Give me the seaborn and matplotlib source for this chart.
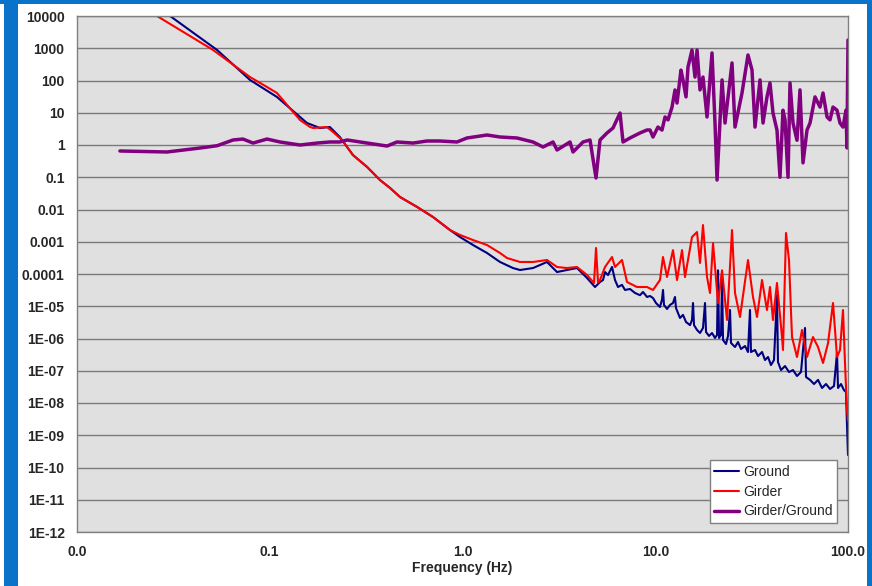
import numpy as np
import pandas as pd
import matplotlib
matplotlib.use("Agg")
import matplotlib.pyplot as plt
from matplotlib.patches import Rectangle
from matplotlib.ticker import NullLocator
import seaborn as sns

sns.set_theme(style="white")
plt.rcParams['font.family'] = ['Liberation Sans', 'DejaVu Sans']

# ---------------- data ----------------
ground_freq = [0.0239, 0.0304, 0.0533, 0.0790, 0.109, 0.156, 0.182, 0.205, 0.231, 0.270,
               0.320, 0.373, 0.421, 0.474, 0.581, 0.703, 0.861, 0.971, 1.134, 1.340,
               1.565, 1.828, 1.988, 2.322, 2.744, 3.093, 3.484, 3.927, 4.426, 4.869,
               5.169, 5.357, 5.487, 5.687, 5.966, 6.184, 6.409, 6.723, 6.968, 7.396,
               7.852, 8.334, 8.638, 9.063, 9.393, 9.735, 10.09, 10.58, 10.84, 10.97,
               11.10, 11.51, 11.93, 12.36, 12.66, 12.81, 13.44, 13.93, 14.44, 15.15,
               15.51, 15.70, 15.89, 16.47, 17.07, 17.69, 18.12, 18.34, 19.01, 19.70,
               20.42, 20.92, 21.17, 21.42, 21.94, 22.21, 22.47, 23.29, 23.85, 24.43,
               24.72, 25.93, 26.88, 27.86, 29.22, 30.28, 31.01, 31.38, 32.93, 34.13,
               35.81, 37.11, 38.46, 39.85, 41.31, 42.81, 43.32, 44.92, 47.12, 49.42,
               51.84, 54.38, 57.04, 59.83, 60.55, 63.53, 66.64, 69.90, 73.32, 76.90,
               80.67, 84.60, 87.70, 88.75, 92.0, 95.33, 97.63, 98.80, 100.0]
ground_psd = [2.8e4, 1.0e4, 883, 104, 30.8, 4.81, 3.37, 3.61, 1.77, 0.49,
              0.208, 0.0822, 0.0464, 0.0244, 0.0120, 5.85e-3, 2.31e-3, 1.40e-3, 7.92e-4, 4.48e-4,
              2.36e-4, 1.53e-4, 1.33e-4, 1.53e-4, 2.36e-4, 1.15e-4, 1.33e-4, 1.53e-4, 7.52e-5, 3.95e-5,
              5.65e-5, 6.5e-5, 1.15e-4, 9.3e-5, 1.65e-4, 6.5e-5, 3.95e-5, 4.6e-5, 3.2e-5, 3.43e-5,
              2.58e-5, 2.2e-5, 2.77e-5, 1.94e-5, 2.08e-5, 1.80e-5, 1.26e-5, 9.48e-6, 1.6e-5, 3.2e-5,
              1.1e-5, 8.22e-6, 1.1e-5, 1.26e-5, 1.94e-5, 8.83e-6, 4.33e-6, 5.4e-6, 3.25e-6, 2.6e-6,
              3.75e-6, 1.26e-5, 2.6e-6, 1.84e-6, 1.48e-6, 2.12e-6, 1.26e-5, 1.59e-6, 1.20e-6, 1.48e-6,
              1.04e-6, 1.3e-6, 1.3e-4, 1.04e-6, 1.3e-6, 6.5e-5, 9.0e-7, 6.74e-7, 1.20e-6, 7.65e-6,
              7.24e-7, 5.45e-7, 7.78e-7, 4.72e-7, 5.85e-7, 3.81e-7, 7.65e-6, 3.81e-7, 4.4e-7, 2.86e-7,
              3.81e-7, 2.15e-7, 2.67e-7, 1.5e-7, 2.15e-7, 2.2e-5, 1.87e-7, 1.05e-7, 1.40e-7, 9.14e-8,
              1.05e-7, 6.87e-8, 9.14e-8, 2.12e-6, 6.4e-8, 5.2e-8, 3.88e-8, 5.2e-8, 2.92e-8, 3.88e-8,
              2.72e-8, 3.37e-8, 3.55e-7, 2.92e-8, 3.88e-8, 2.5e-8, 2.19e-8, 2.08e-9, 2.44e-10]

girder_freq = [0.0212, 0.0260, 0.0508, 0.0790, 0.0968, 0.109, 0.1435, 0.162, 0.168, 0.198,
               0.213, 0.237, 0.270, 0.320, 0.373, 0.421, 0.474, 0.581, 0.703, 0.861,
               0.971, 1.134, 1.340, 1.565, 1.702, 1.988, 2.322, 2.744, 3.093, 3.484,
               3.927, 4.426, 4.811, 4.928, 5.047, 5.169, 5.487, 5.966, 6.184, 6.723,
               7.136, 8.040, 9.063, 9.735,
               10.58, 10.97, 11.51, 12.36, 12.97, 13.77, 14.27, 15.51, 16.47, 17.07,
               17.69, 18.56, 19.23, 19.94, 21.17, 22.21, 23.57, 25.02, 25.93, 27.53,
               30.28, 32.15, 33.73, 35.81, 37.99, 39.38, 40.81, 42.81, 45.46, 46.00,
               47.68, 49.42, 51.23, 54.38, 57.72, 61.28, 65.83, 69.90, 74.19, 78.8,
               83.61, 87.70, 90.88, 94.21, 96.47, 98.80, 100.0]
girder_psd = [2.1e4, 1.0e4, 883, 128, 62.8, 40.9, 5.96, 3.61, 3.37, 3.61,
              2.53, 1.43, 0.49, 0.208, 0.0822, 0.0464, 0.0244, 0.0120, 5.85e-3, 2.31e-3,
              1.62e-3, 1.13e-3, 7.92e-4, 4.48e-4, 3.13e-4, 2.36e-4, 2.36e-4, 2.72e-4, 1.65e-4, 1.53e-4,
              1.65e-4, 9.31e-5, 5.26e-5, 6.40e-4, 5.5e-5, 6.52e-5, 1.65e-4, 3.36e-4, 1.65e-4, 2.72e-4,
              5.65e-5, 3.95e-5, 3.95e-5, 3.19e-5,
              6.5e-5, 3.36e-4, 8.07e-5, 5.5e-4, 6.5e-5, 5.5e-4, 8.07e-5, 1.4e-3, 2.0e-3, 2.19e-4,
              3.3e-3, 8.07e-5, 2.58e-5, 9.1e-4, 1.26e-5, 1.3e-4, 3.75e-6, 2.3e-3, 2.58e-5, 4.65e-6,
              2.7e-4, 1.94e-5, 4.65e-6, 6.5e-5, 7.65e-6, 3.95e-5, 3.75e-6, 5.26e-5, 1.11e-6, 4.4e-7,
              1.87e-3, 2.7e-4, 1.11e-6, 2.67e-7, 1.84e-6, 2.67e-7, 1.11e-6, 5.45e-7, 1.74e-7, 7.24e-7,
              1.26e-5, 2.67e-7, 4.4e-7, 7.65e-6, 1.74e-7, 6.07e-9, 2.97e-9]

ratio_freq = [0.0167, 0.0293, 0.0435, 0.0533, 0.0645, 0.0726, 0.0819, 0.0968, 0.113, 0.1435,
              0.176, 0.205, 0.231, 0.252, 0.320, 0.406, 0.457, 0.554, 0.654, 0.764,
              0.936, 1.055, 1.340, 1.565, 1.918, 2.322, 2.617, 2.948, 3.093, 3.612,
              3.744, 4.220, 4.587, 4.928, 5.169, 5.620, 6.038, 6.564, 6.804, 7.396,
              8.334, 9.063, 9.393, 9.735,
              10.33, 10.84, 11.24, 11.65, 12.22, 12.66, 12.97, 13.60, 13.93, 14.44,
              14.79, 15.51, 16.08, 16.47, 17.07, 17.69, 18.56, 19.70, 20.42, 20.92,
              22.21, 23.01, 25.02, 25.93, 28.19, 30.28, 31.77, 32.93, 34.96, 36.24,
              37.99, 39.38, 40.82, 42.81, 44.38, 46.00, 47.12, 48.84, 50.02, 51.84,
              54.38, 56.36, 58.42, 61.28, 63.53, 67.44, 71.57, 74.19, 77.83, 80.67,
              83.61, 87.70, 90.88, 94.21, 97.63, 98.80, 100.0]
ratio_psd = [0.652, 0.607, 0.807, 0.95, 1.43, 1.53, 1.15, 1.53, 1.24, 1.0,
             1.15, 1.24, 1.24, 1.43, 1.15, 0.93, 1.24, 1.15, 1.33, 1.33,
             1.24, 1.65, 2.04, 1.77, 1.65, 1.24, 0.867, 1.24, 0.70, 1.24,
             0.607, 1.24, 1.43, 0.0948, 1.43, 2.36, 3.37, 9.8, 1.24, 1.65,
             2.36, 2.92, 2.92, 1.77,
             3.6, 2.9, 7.4, 6.0, 15, 51, 20, 210, 104, 31,
             262, 880, 128, 880, 51, 128, 7.4, 713, 4.8, 0.082,
             104, 4.8, 349, 3.6, 41, 618, 212, 3.6, 104, 4.8,
             31, 84, 9.8, 2.9, 0.10, 12, 6.0, 0.10, 84, 4.8,
             1.4, 51, 0.28, 2.9, 4.8, 31, 15, 41, 7.4, 6.0,
             15, 12, 4.8, 3.6, 12, 0.81, 1800]

series_names = ["Ground", "Girder", "Girder/Ground"]
x_tick_values = [0.01, 0.1, 1.0, 10.0, 100.0]
x_tick_labels = ["0.0", "0.1", "1.0", "10.0", "100.0"]
y_tick_values = [1e4, 1e3, 1e2, 1e1, 1e0, 1e-1, 1e-2, 1e-3, 1e-4, 1e-5,
                 1e-6, 1e-7, 1e-8, 1e-9, 1e-10, 1e-11, 1e-12]
y_tick_labels = ["10000", "1000", "100", "10", "1", "0.1", "0.01", "0.001", "0.0001",
                 "1E-05", "1E-06", "1E-07", "1E-08", "1E-09", "1E-10", "1E-11", "1E-12"]
x_label = "Frequency (Hz)"

# ---------------- figure ----------------
W, H = 872, 586
fig = plt.figure(figsize=(W / 100, H / 100), dpi=100)
fig.patch.set_facecolor("white")
slide_blue = "#0b72c9"
fig.patches.append(Rectangle((4 / W, 0), 14 / W, 1, transform=fig.transFigure,
                             facecolor=slide_blue, edgecolor="none", zorder=0))
fig.patches.append(Rectangle((867 / W, 0), 5 / W, 1, transform=fig.transFigure,
                             facecolor=slide_blue, edgecolor="none", zorder=0))
fig.patches.append(Rectangle((0, 1 - 4 / H), 1, 4 / H, transform=fig.transFigure,
                             facecolor=slide_blue, edgecolor="none", zorder=0))

ax = fig.add_axes([77 / W, 1 - 532 / H, 771 / W, 516 / H])
ax.set_facecolor("#e0e0e0")
ax.set_xscale("log")
ax.set_yscale("log")

styles = [("#000080", 1.5), ("#ff0000", 1.5), ("#800080", 2.5)]
datasets = [(ground_freq, ground_psd), (girder_freq, girder_psd), (ratio_freq, ratio_psd)]
for name, (f, p), (c, lw) in zip(series_names, datasets, styles):
    df = pd.DataFrame({"freq": f, "psd": p})
    sns.lineplot(data=df, x="freq", y="psd", ax=ax, color=c, linewidth=lw,
                 label=name, estimator=None, sort=False)

ax.set_xlim(0.01, 100)
ax.set_ylim(1e-12, 1e4)
ax.set_xticks(x_tick_values, x_tick_labels)
ax.set_yticks(y_tick_values, y_tick_labels)
ax.xaxis.set_minor_locator(NullLocator())
ax.yaxis.set_minor_locator(NullLocator())
ax.yaxis.grid(True, color="#7a7a7a", linewidth=1.0)
ax.xaxis.grid(False)
ax.set_axisbelow(True)
for s in ax.spines.values():
    s.set_color("#808080")
    s.set_linewidth(1.0)
ax.tick_params(axis="both", which="major", direction="out", length=4, width=1,
               color="#808080", labelsize=10, pad=5)
for lab in ax.get_xticklabels() + ax.get_yticklabels():
    lab.set_fontweight("bold")
ax.set_xlabel(x_label, fontsize=10, fontweight="bold", labelpad=2)
ax.set_ylabel("")

leg = ax.legend(loc="lower right", bbox_to_anchor=(0.986, 0.017), fontsize=10,
                frameon=True, fancybox=False, edgecolor="#808080", framealpha=1,
                handlelength=1.8, handletextpad=0.25, labelspacing=0.42, borderpad=0.35,
                borderaxespad=0.0)
leg.get_frame().set_linewidth(1.0)

fig.savefig("out.png", dpi=100, facecolor=fig.get_facecolor())
